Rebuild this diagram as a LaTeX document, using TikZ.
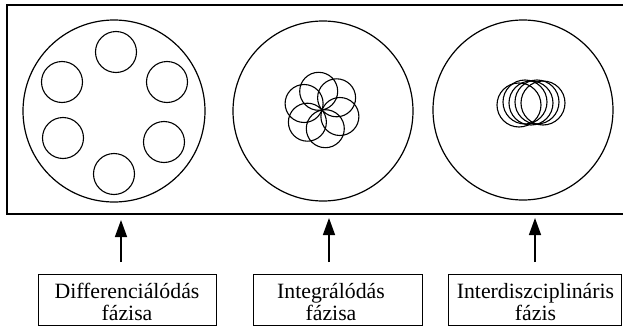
\documentclass[tikz,border=0pt]{standalone}
\usepackage{fontspec}
\setmainfont{Liberation Serif}
\usetikzlibrary{arrows.meta}

\begin{document}
\begin{tikzpicture}[
  x=0.5pt, y=-0.5pt,
  frame/.style={draw, line width=0.9pt},
  ring/.style={draw, line width=0.6pt},
  cell/.style={draw, line width=0.55pt},
  phase/.style={draw, line width=0.5pt, minimum height=25.5pt, inner sep=0pt},
  caption/.style={inner sep=0pt, align=center,
    font=\fontsize{10.9pt}{11.3pt}\selectfont},
  arrow/.style={draw, line width=0.7pt, -{Triangle[width=6pt, length=8.5pt]}}]

  \clip (0,0) rectangle (623,327);

  % panel round the three phases
  \draw[frame] (7,5) rectangle (640,214);

  % phase 1: the disciplines stand apart
  \draw[ring] (114,111) circle[radius=91];
  \draw[cell] (116,52)  circle[radius=20.5];
  \draw[cell] (167,82)  circle[radius=20.5];
  \draw[cell] (164,142) circle[radius=20.5];
  \draw[cell] (114,174) circle[radius=20.5];
  \draw[cell] (63,138)  circle[radius=20.5];
  \draw[cell] (62,82)   circle[radius=20.5];

  % phase 2: they overlap round a common centre
  \draw[ring] (323,111) circle[radius=90];
  \draw[cell] (318.7,91.3)  circle[radius=19];
  \draw[cell] (336.6,97.8)  circle[radius=19];
  \draw[cell] (339.9,116.5) circle[radius=19];
  \draw[cell] (325.3,128.7) circle[radius=19];
  \draw[cell] (307.4,122.2) circle[radius=19];
  \draw[cell] (304.1,103.5) circle[radius=19];

  % phase 3: they nearly coincide
  \draw[ring] (523,110) circle[radius=90];
  \draw[cell] (519,105) circle[radius=22];
  \draw[cell] (525,102) circle[radius=22];
  \draw[cell] (531,103) circle[radius=22];
  \draw[cell] (537,102) circle[radius=22];
  \draw[cell] (543,103) circle[radius=22];

  % caption boxes
  \node[phase, minimum width=89pt]   (box1) at (127,299.5)   {};
  \node[phase, minimum width=84.5pt] (box2) at (337.5,299.5) {};
  \node[phase, minimum width=86.5pt] (box3) at (535,299.5)   {};
  \node[caption] (txt1) at (127,302)   {Differenciálódás\\fázisa};
  \node[caption] (txt2) at (331,302)   {Integrálódás\\fázisa};
  \node[caption] (txt3) at (535.5,302) {Interdiszciplináris\\fázis};

  % arrows up to the panel
  \coordinate (tail1) at (121,262);
  \coordinate (head1) at (121,220);
  \coordinate (tail2) at (329,262);
  \coordinate (head2) at (329,218);
  \coordinate (tail3) at (535,262);
  \coordinate (head3) at (535,218);
  \draw[arrow] (tail1) -- (head1);
  \draw[arrow] (tail2) -- (head2);
  \draw[arrow] (tail3) -- (head3);
\end{tikzpicture}
\end{document}
